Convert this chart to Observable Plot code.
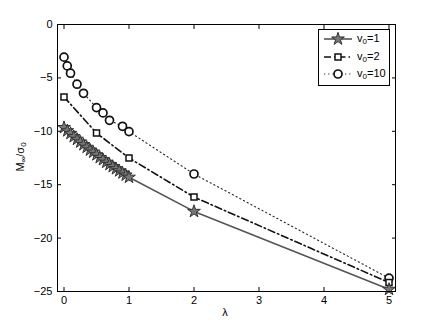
<!DOCTYPE html>
<html><head><meta charset="utf-8">
<script src="https://cdn.jsdelivr.net/npm/d3@7"></script>
<script src="https://cdn.jsdelivr.net/npm/@observablehq/plot@0.6"></script>
<style>body{margin:0;background:#fff}</style>
</head><body><div id="chart"></div>
<script>
const xTicks = [0, 1, 2, 3, 4, 5];
const yTicks = [-25, -20, -15, -10, -5, 0];

const lambda1 = [0,0.05,0.1,0.15,0.2,0.25,0.3,0.35,0.4,0.45,0.5,0.55,0.6,0.65,0.7,0.75,0.8,0.85,0.9,0.95,1,2,5];
const m1 = [-9.65,-9.95,-10.2,-10.5,-10.75,-11.0,-11.25,-11.5,-11.75,-11.95,-12.2,-12.45,-12.65,-12.9,-13.1,-13.3,-13.5,-13.7,-13.9,-14.1,-14.3,-17.5,-24.8];

const lambda2 = [0, 0.5, 1, 2, 5];
const m2 = [-6.78, -10.16, -12.5, -16.16, -24.16];

const lambda10 = [0,0.05,0.1,0.2,0.3,0.5,0.6,0.7,0.9,1,2,5];
const m10 = [-3.06,-3.88,-4.56,-5.59,-6.44,-7.78,-8.28,-8.97,-9.53,-10.03,-14.0,-23.75];

const labels = ["=1", "=2", "=10"];

const s1 = lambda1.map((x,i)=>({x, y:m1[i]}));
const s2 = lambda2.map((x,i)=>({x, y:m2[i]}));
const s10 = lambda10.map((x,i)=>({x, y:m10[i]}));

const FONT = "'Liberation Sans', Arial, Helvetica, sans-serif";
const plot = Plot.plot({
  width: 436, height: 328,
  marginLeft: 57, marginRight: 41, marginTop: 24, marginBottom: 37,
  style: {fontFamily: FONT, fontSize: "11px", background: "white", color: "black"},
  x: {domain: [-0.1, 5.1], label: null},
  y: {domain: [-25, 0], label: null},
  marks: [
    Plot.axisX({ticks: xTicks, tickSize: -4, tickPadding: 9, tickFormat: d3.format("d"), fontSize: 11}),
    Plot.axisX({anchor: "top", ticks: xTicks, tickSize: -4, tickFormat: () => ""}),
    Plot.axisY({ticks: yTicks, tickSize: -4, tickPadding: 9, fontSize: 11}),
    Plot.axisY({anchor: "right", ticks: yTicks, tickSize: -4, tickFormat: () => ""}),
    Plot.line(s10, {x: "x", y: "y", stroke: "#222", strokeWidth: 1.1, strokeDasharray: "1.2,3"}),
    Plot.line(s2, {x: "x", y: "y", stroke: "#111", strokeWidth: 1.6, strokeDasharray: "7,3,1.5,3"}),
    Plot.line(s1, {x: "x", y: "y", stroke: "#555", strokeWidth: 1.6}),
    Plot.dot(s10, {x: "x", y: "y", r: 4, stroke: "#111", strokeWidth: 1.7, fill: "white"}),
    Plot.dot(s2, {x: "x", y: "y", symbol: "square", r: 3.4, stroke: "#111", strokeWidth: 1.5, fill: "white"}),
    Plot.dot(s1, {x: "x", y: "y", symbol: "star", r: 4, stroke: "#333", strokeWidth: 1, fill: "#777"}),
    Plot.frame({stroke: "black", strokeWidth: 1})
  ]
});
document.getElementById("chart").appendChild(plot);

const svg = d3.select(plot);
// axis labels
svg.append("text").attr("x", 225).attr("y", 316).attr("text-anchor", "middle")
  .attr("font-family", FONT).attr("font-size", 11).text("λ");
const yl = svg.append("text").attr("transform", "translate(24,157) rotate(-90)")
  .attr("text-anchor", "middle").attr("font-family", FONT).attr("font-size", 11);
yl.append("tspan").text("M");
yl.append("tspan").attr("baseline-shift", "-25%").attr("font-size", 8).text("∞");
yl.append("tspan").text("/σ");
yl.append("tspan").attr("baseline-shift", "-25%").attr("font-size", 8).text("0");

// legend
const lg = svg.append("g").attr("font-family", FONT).attr("font-size", 11).attr("text-anchor", "start");
lg.append("rect").attr("x", 318.5).attr("y", 29.5).attr("width", 71).attr("height", 56)
  .attr("fill", "white").attr("stroke", "black");
const rows = [39, 57, 74];
const styles = [
  {stroke: "#555", w: 1.6, dash: null},
  {stroke: "#111", w: 1.6, dash: "7,3,1.5,3"},
  {stroke: "#222", w: 1.1, dash: "1.2,3"}
];
rows.forEach((yy, i) => {
  const st = styles[i];
  lg.append("line").attr("x1", 324).attr("x2", 352).attr("y1", yy).attr("y2", yy)
    .attr("stroke", st.stroke).attr("stroke-width", st.w).attr("stroke-dasharray", st.dash);
  const t = lg.append("text").attr("x", 357).attr("y", yy + 3);
  t.append("tspan").text("v");
  t.append("tspan").attr("baseline-shift", "-30%").attr("font-size", 8).text("0");
  t.append("tspan").text(labels[i]);
});
lg.append("path").attr("d", d3.symbol(d3.symbolStar, 50)()).attr("transform", "translate(338,39)")
  .attr("fill", "#777").attr("stroke", "#333");
lg.append("rect").attr("x", 335).attr("y", 54).attr("width", 6).attr("height", 6)
  .attr("fill", "white").attr("stroke", "#111").attr("stroke-width", 1.5);
lg.append("circle").attr("cx", 338).attr("cy", 74).attr("r", 4)
  .attr("fill", "white").attr("stroke", "#111").attr("stroke-width", 1.7);
</script></body></html>
